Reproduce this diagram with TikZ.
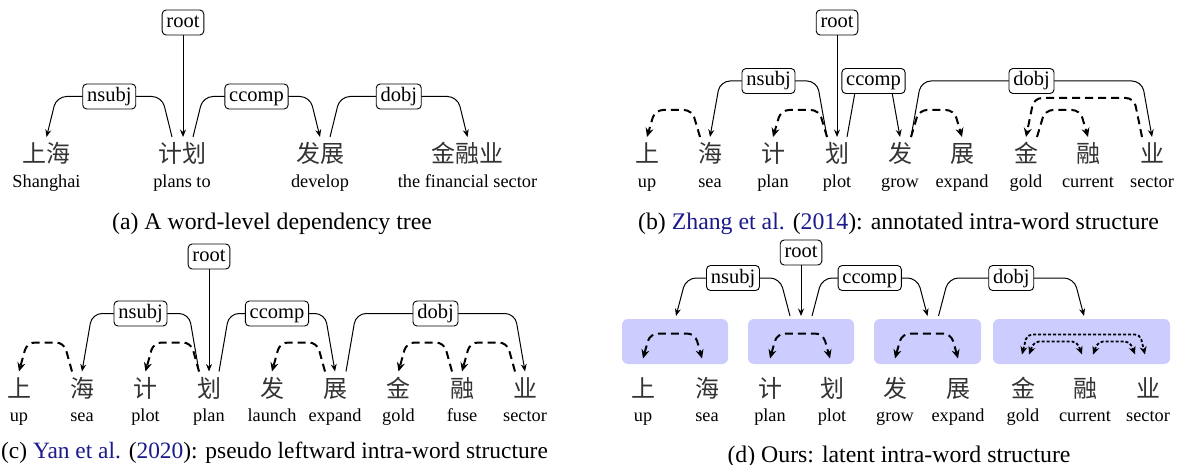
\documentclass[tikz,border=0pt]{standalone}
\usepackage{fontspec}
\setmainfont{Liberation Serif}
\newfontfamily\cjk{Noto Sans CJK SC}
\usetikzlibrary{arrows.meta,calc}
\definecolor{boxblue}{RGB}{204,204,255}
\definecolor{citeblue}{RGB}{26,26,140}
% arc: style, from, to, height, slant
\newcommand{\darc}[5]{\draw[#1] let \p1=#2, \p2=#3 in (\p1) -- ({\x1+(#5pt)},{\y1+(#4pt)}) -- ({\x2-(#5pt)},{\y1+(#4pt)}) -- (\p2);}
% arc with label: style, from, to, height, slant, name, text
\newcommand{\darcl}[7]{\draw[#1] let \p1=#2, \p2=#3 in (\p1) -- ({\x1+(#5pt)},{\y1+(#4pt)}) -- node[lab] (#6) {#7} ({\x2-(#5pt)},{\y1+(#4pt)}) -- (\p2);}
\begin{document}
\begin{tikzpicture}[x=1pt,y=-1pt,
  zh/.style={font=\cjk\fontsize{24}{24}\selectfont, text=black!80, anchor=base, inner sep=0pt, text height=21pt, outer ysep=5pt},
  gl/.style={font=\fontsize{18.3}{20}\selectfont, anchor=base, inner sep=0pt},
  captext/.style={font=\fontsize{23.8}{26}\selectfont, anchor=base, inner sep=0pt},
  lab/.style={draw, solid, fill=white, rounded corners=4pt, line width=0.9pt, font=\fontsize{20.5}{22}\selectfont, inner xsep=4.3pt, inner ysep=3pt, text height=14.5pt, text depth=4.5pt},
  dep/.style={line width=1pt, rounded corners=10pt, -{Stealth[length=7.5pt,width=6pt,inset=2.5pt]}},
  idep/.style={line width=2pt, dash pattern=on 8pt off 5pt, rounded corners=8pt, -{Stealth[length=9pt,width=8pt,inset=3pt]}},
  ldep/.style={line width=2pt, dash pattern=on 8pt off 5pt, rounded corners=8pt, {Stealth[length=9pt,width=8pt,inset=3pt]}-{Stealth[length=9pt,width=8pt,inset=3pt]}},
  ddep/.style={line width=1.8pt, dash pattern=on 3pt off 2pt, rounded corners=5pt, {Stealth[length=8pt,width=7pt,inset=2.5pt]}-{Stealth[length=8pt,width=7pt,inset=2.5pt]}},
  bbox/.style={fill=boxblue, rounded corners=6pt, inner sep=0pt, outer sep=3pt, minimum height=45pt}
]
\useasboundingbox (0,0) rectangle (1177,465);
\fill[white] (0,0) rectangle (1177,465);

% ---------------- (a) ----------------
\node[zh] (aw1) at (46.5,163) {上海};
\node[zh] (aw2) at (182,163) {计划};
\node[zh] (aw3) at (320,163) {发展};
\node[zh] (aw4) at (467.5,163) {金融业};
\node[gl] (ag1) at (46.5,188) {Shanghai};
\node[gl] (ag2) at (182,188) {plans to};
\node[gl] (ag3) at (320,188) {develop};
\node[gl] (ag4) at (467.5,188) {the financial sector};
\node[lab] (aroot) at (183,22.5) {root};
\draw[dep] (aroot.south) -- (aroot.south |- aw2.north);
\darcl{dep}{([xshift=-10pt]aw2.north)}{(aw1.north)}{40.5}{-10}{ansubj}{nsubj}
\darcl{dep}{([xshift=11pt]aw2.north)}{(aw3.north)}{40.5}{10}{accomp}{ccomp}
\darcl{dep}{([xshift=10pt]aw3.north)}{(aw4.north)}{40.5}{10}{adobj}{dobj}
\node[captext] (acap) at (272,229.5) {(a) A word-level dependency tree};

% ---------------- (b) ----------------
\foreach \i/\x/\c/\g in {1/647/上/up,2/710/海/sea,3/773/计/plan,4/837/划/plot,5/900/发/grow,6/962/展/expand,7/1026/金/gold,8/1088/融/current,9/1152/业/sector}{
  \node[zh] (bw\i) at (\x,163) {\c};
  \node[gl] (bg\i) at (\x,188) {\g};
}
\darc{idep}{([xshift=-10pt]bw2.north)}{(bw1.north)}{27}{-8}
\darc{idep}{([xshift=-10pt]bw4.north)}{(bw3.north)}{27}{-8}
\darc{idep}{([xshift=11pt]bw5.north)}{(bw6.north)}{27}{8}
\darc{idep}{([xshift=11pt]bw7.north)}{(bw8.north)}{27}{8}
\darc{idep}{([xshift=-10pt]bw9.north)}{(bw7.north)}{39}{-8}
\node[lab] (broot) at (837,22.5) {root};
\draw[dep] (broot.south) -- (broot.south |- bw4.north);
\darcl{dep}{([xshift=-10pt]bw4.north)}{(bw2.north)}{56}{-10}{bnsubj}{nsubj}
\darcl{dep}{([xshift=10pt]bw4.north)}{(bw5.north)}{56}{10}{bccomp}{ccomp}
\darcl{dep}{([xshift=11pt]bw5.north)}{(bw9.north)}{56}{10}{bdobj}{dobj}
\node[captext] (bcap) at (898.5,229.5) {(b) \textcolor{citeblue}{Zhang et al.} (\textcolor{citeblue}{2014}): annotated intra-word structure};

% ---------------- (c) ----------------
\foreach \i/\x/\c/\g in {1/19/上/up,2/82/海/sea,3/145.5/计/plot,4/209/划/plan,5/272/发/launch,6/335/展/expand,7/398.5/金/gold,8/462/融/fuse,9/525/业/sector}{
  \node[zh] (cw\i) at (\x,397.5) {\c};
  \node[gl] (cg\i) at (\x,421) {\g};
}
\darc{idep}{([xshift=-10pt]cw2.north)}{(cw1.north)}{29}{-8}
\darc{idep}{([xshift=-10pt]cw4.north)}{(cw3.north)}{29}{-8}
\darc{idep}{([xshift=-10pt]cw6.north)}{(cw5.north)}{29}{-8}
\darc{idep}{([xshift=-10pt]cw8.north)}{(cw7.north)}{29}{-8}
\darc{idep}{([xshift=-10pt]cw9.north)}{(cw8.north)}{29}{-8}
\node[lab] (croot) at (209,256.5) {root};
\draw[dep] (croot.south) -- (croot.south |- cw4.north);
\darcl{dep}{([xshift=-10pt]cw4.north)}{(cw2.north)}{58}{-10}{cnsubj}{nsubj}
\darcl{dep}{([xshift=10pt]cw4.north)}{(cw6.north)}{58}{10}{cccomp}{ccomp}
\darcl{dep}{([xshift=11pt]cw6.north)}{(cw9.north)}{58}{10}{cdobj}{dobj}
\node[captext, font=\fontsize{23.4}{26}\selectfont, anchor=base west] (ccap) at (1,458.5) {(c) \textcolor{citeblue}{Yan et al.} (\textcolor{citeblue}{2020}): pseudo leftward intra-word structure};

% ---------------- (d) ----------------
\node[bbox, minimum width=106pt] (dB1) at (675,341.5) {};
\node[bbox, minimum width=106pt] (dB2) at (801,341.5) {};
\node[bbox, minimum width=107pt] (dB3) at (927.5,341.5) {};
\node[bbox, minimum width=177pt] (dB4) at (1081.5,341.5) {};
\foreach \i/\x/\c/\g in {1/643/上/up,2/707/海/sea,3/770/计/plan,4/832/划/plot,5/895/发/grow,6/958/展/expand,7/1023/金/gold,8/1085/融/current,9/1148/业/sector}{
  \node[zh] (dw\i) at (\x,397.5) {\c};
  \node[gl] (dg\i) at (\x,421) {\g};
}
\darc{ldep}{([yshift=13pt]dw1.north)}{([xshift=-5pt,yshift=13pt]dw2.north)}{25}{7}
\darc{ldep}{([yshift=13pt]dw3.north)}{([xshift=-2pt,yshift=13pt]dw4.north)}{25}{7}
\darc{ldep}{([yshift=13pt]dw5.north)}{([yshift=13pt]dw6.north)}{25}{7}
\darc{ddep}{([xshift=-1pt,yshift=17pt]dw7.north)}{([xshift=-3pt,yshift=17pt]dw9.north)}{20}{5}
\darc{ddep}{([xshift=6pt,yshift=17pt]dw7.north)}{([xshift=-3pt,yshift=17pt]dw8.north)}{13}{5}
\darc{ddep}{([xshift=8pt,yshift=17pt]dw8.north)}{([xshift=-13pt,yshift=17pt]dw9.north)}{13}{5}
\node[lab] (droot) at (801,252.5) {root};
\draw[dep] (droot.south) -- (droot.south |- dB2.north);
\darcl{dep}{([xshift=-11pt]dB2.north)}{([xshift=1pt]dB1.north)}{38}{-10}{dnsubj}{nsubj}
\darcl{dep}{([xshift=11pt]dB2.north)}{(dB3.north)}{38}{10}{dccomp}{ccomp}
\darcl{dep}{([xshift=11pt]dB3.north)}{([xshift=2.5pt]dB4.north)}{38}{10}{ddobj}{dobj}
\node[captext] (dcap) at (899,462) {(d) Ours: latent intra-word structure};
\end{tikzpicture}
\end{document}
